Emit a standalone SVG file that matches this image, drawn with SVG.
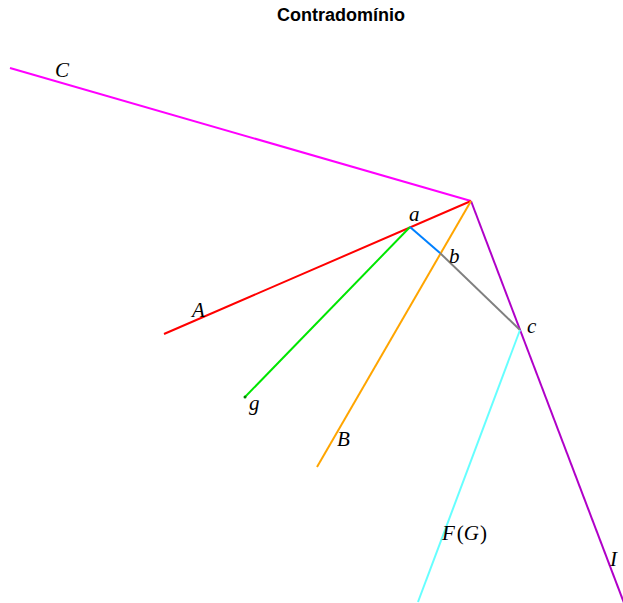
<svg xmlns="http://www.w3.org/2000/svg" width="623" height="603" viewBox="0 0 623 603">
<style>
.l{fill:none;stroke-width:2;stroke-linecap:butt}
.t{font-family:"Liberation Serif",serif;font-style:italic;font-size:21px;fill:#000}
.u{font-style:normal}
.title{font-family:"Liberation Sans",Arial,sans-serif;font-weight:bold;font-size:18px;fill:#000}
</style>
<rect width="623" height="603" fill="#fff"/>
<text class="title" x="341" y="21" text-anchor="middle">Contradomínio</text>
<g id="connectors">
<line class="l" x1="10" y1="68" x2="471" y2="201" stroke="#ff00ff"/>
<line class="l" x1="471" y1="201" x2="624" y2="603" stroke="#b000c8"/>
<line class="l" x1="164" y1="334" x2="471" y2="201" stroke="#ff0000"/>
<line class="l" x1="471" y1="201" x2="317" y2="467" stroke="#ffa500"/>
<line class="l" x1="410" y1="227" x2="245" y2="397" stroke="#00e600"/>
<line class="l" x1="410" y1="227" x2="440" y2="253" stroke="#0080ff"/>
<line class="l" x1="440" y1="253" x2="520" y2="330" stroke="#808080"/>
<line class="l" x1="520" y1="330" x2="418" y2="602" stroke="#66ffff"/>
<circle cx="245" cy="397" r="1.5" fill="#008000"/>
</g>
<g id="node-C"><text class="t" x="55" y="77">C</text></g>
<g id="node-A"><text class="t" x="192" y="317">A</text></g>
<g id="node-B"><text class="t" x="337" y="446">B</text></g>
<g id="node-g"><text class="t" x="249" y="410">g</text></g>
<g id="node-FG"><text class="t" x="442" y="540">F<tspan class="u" dx="2">(</tspan>G<tspan class="u" dx="1">)</tspan></text></g>
<g id="node-I"><text class="t" x="610" y="566">I</text></g>
<g id="node-a"><text class="t" x="409" y="221">a</text></g>
<g id="node-b"><text class="t" x="449" y="263">b</text></g>
<g id="node-c"><text class="t" x="527" y="333">c</text></g>
</svg>
